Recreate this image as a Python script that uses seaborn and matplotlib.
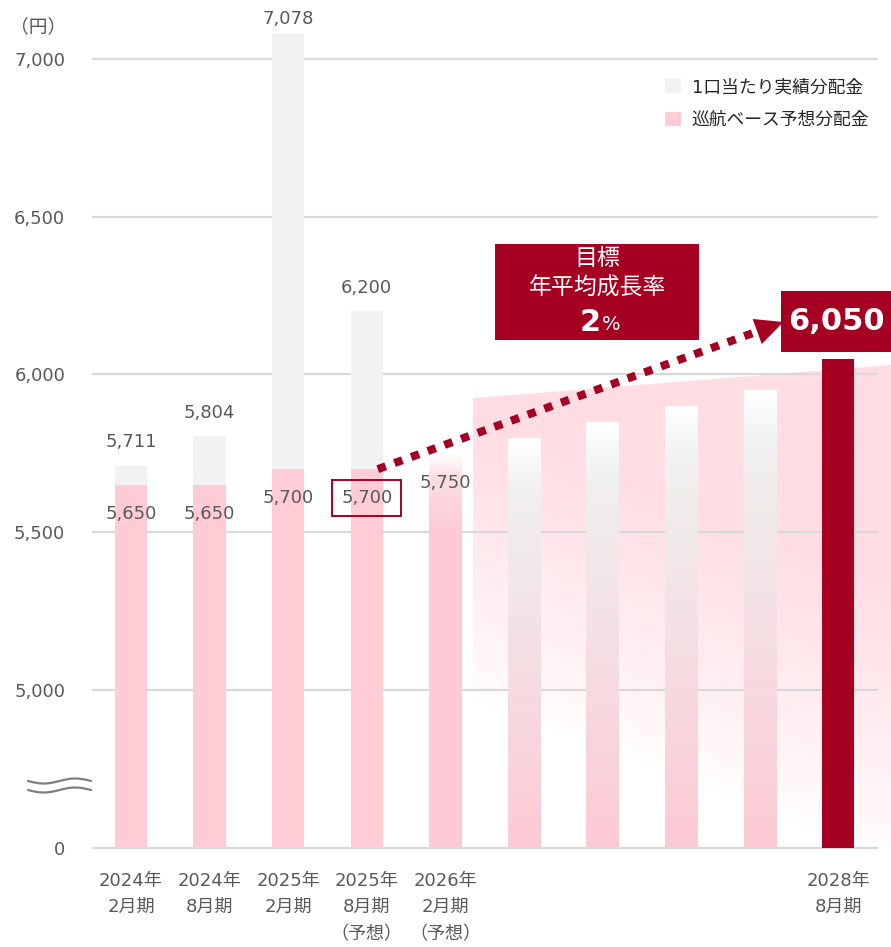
import numpy as np
import pandas as pd
import matplotlib
matplotlib.use("Agg")
import matplotlib.pyplot as plt
import seaborn as sns
from matplotlib.patches import Patch, Polygon, Rectangle
from matplotlib.lines import Line2D
from matplotlib.colors import LinearSegmentedColormap, to_rgb

# ---------------- data ----------------
periods = ["2024年2月期", "2024年8月期", "2025年2月期", "2025年8月期", "2026年2月期",
           "2026年8月期", "2027年2月期", "2027年8月期", "2028年2月期", "2028年8月期"]
tick_labels = ["2024年\n2月期", "2024年\n8月期", "2025年\n2月期", "2025年\n8月期\n（予想）",
               "2026年\n2月期\n（予想）", "", "", "", "", "2028年\n8月期"]
actual_periods = periods[:4]
actual_values = [5711, 5804, 7078, 6200]
base_periods = periods[:4]
base_values = [5650, 5650, 5700, 5700]
path_periods = periods[4:9]
path_values = [5750, 5800, 5850, 5900, 5950]
target_periods = periods[9:]
target_values = [6050]
ytick_values = [4500, 5000, 5500, 6000, 6500, 7000]
ytick_labels = ["0", "5,000", "5,500", "6,000", "6,500", "7,000"]
legend_labels = ["1口当たり実績分配金", "巡航ベース予想分配金"]
unit_label = "（円）"
goal_lines = ["目標", "年平均成長率"]
goal_rate = "2"
goal_unit = "%"

# ---------------- style ----------------
GRAY = "#F2F2F2"
PINK = "#FFCCD6"
RED = "#A50021"
TXT = "#595959"
GRID = "#D9D9D9"
W = 0.41
YMIN, YMAX = 4500, 7186
XMIN, XMAX = -0.5, 9.67
FS = 13

sns.set_theme(style="white")
plt.rcParams['font.family'] = ['DejaVu Sans', 'Noto Sans CJK JP']

fig = plt.figure(figsize=(8.91, 9.47), dpi=100)
ax = fig.add_axes([91.7 / 891, 99 / 947, (891 - 91.7) / 891, 848 / 947])

# gridlines
ax.hlines(ytick_values, -0.5, 9.5, color=GRID, lw=1.6, zorder=1, clip_on=False)

# background trend band (gradient)
bx0, bx1 = 4.35, 9.67
btop0, btop1 = 5925, 6030
band = Polygon([(bx0, YMIN), (bx0, btop0), (bx1, btop1), (bx1, YMIN)],
               closed=True, fc="none", ec="none")
ax.add_patch(band)
xs = np.linspace(bx0, bx1, 300)
ys = np.linspace(btop1, YMIN, 400)
XX, YY = np.meshgrid(xs, ys)
px = 131 + 78.6 * XX
py = 848 - (YY - 4500) * 0.3157
y0 = 700 + (px - 473) / 418 * 160
inten = np.clip((y0 - py) / 280, 0, 1) ** 0.8
band_rgb = np.array(to_rgb("#FFDDE3"))
img = np.zeros(XX.shape + (4,))
img[..., :3] = band_rgb
img[..., 3] = inten
im = ax.imshow(img, extent=(bx0, bx1, YMIN, btop1), aspect="auto", zorder=0.5,
               interpolation="bilinear")
im.set_clip_path(band)

# bars
df_act = pd.DataFrame({"period": actual_periods, "value": actual_values})
sns.barplot(data=df_act, x="period", y="value", order=periods, color=GRAY,
            saturation=1, width=W, linewidth=0, ax=ax, zorder=2)
df_base = pd.DataFrame({"period": base_periods, "value": base_values})
sns.barplot(data=df_base, x="period", y="value", order=periods, color=PINK,
            saturation=1, width=W, linewidth=0, ax=ax, zorder=2.2)
n0 = len(ax.patches)
df_path = pd.DataFrame({"period": path_periods, "value": path_values})
sns.barplot(data=df_path, x="period", y="value", order=periods, color=PINK,
            saturation=1, width=W, linewidth=0, ax=ax, zorder=2.2)
path_patches = [p for p in ax.patches[n0:] if np.isfinite(p.get_height()) and p.get_height() > 0]
df_tgt = pd.DataFrame({"period": target_periods, "value": target_values})
sns.barplot(data=df_tgt, x="period", y="value", order=periods, color=RED,
            saturation=1, width=W, linewidth=0, ax=ax, zorder=2.2)

cmap_main = LinearSegmentedColormap.from_list(
    "g", [(0, "#FFFFFF"), (0.13, "#F0F0F0"), (0.3, "#F1E9EA"), (1.0, "#FDCAD5")])
cmap_first = LinearSegmentedColormap.from_list(
    "g2", [(0, "#FFFFFF"), (0.06, "#FDDDE3"), (0.2, "#FDCCD6"), (1.0, "#FECBD6")])
for i, p in enumerate(path_patches):
    x0, w, top = p.get_x(), p.get_width(), p.get_y() + p.get_height()
    cm = cmap_first if i == 0 else cmap_main
    g = cm(np.linspace(0, 1, 256))[:, None, :]
    gi = ax.imshow(g, extent=(x0, x0 + w, YMIN, top), aspect="auto", zorder=2.5,
                   interpolation="bilinear")
    gi.set_clip_path(p)

# value labels
pos = {p: i for i, p in enumerate(periods)}
for per, v in zip(actual_periods, actual_values):
    off = 11 if v > 7000 else 17
    ax.annotate(f"{v:,}", (pos[per], v), xytext=(0, off), textcoords="offset points",
                ha="center", va="center", fontsize=FS, color=TXT, zorder=5)
for k, (per, v) in enumerate(zip(base_periods, base_values)):
    kw = {}
    if k == 3:
        kw["bbox"] = dict(boxstyle="square,pad=0.5", fc="none", ec=RED, lw=1.4)
    ax.annotate(f"{v:,}", (pos[per], v), xytext=(0, -21), textcoords="offset points",
                ha="center", va="center", fontsize=FS, color=TXT, zorder=5, **kw)
ax.annotate(f"{path_values[0]:,}", (pos[path_periods[0]], path_values[0]), xytext=(0, -21),
            textcoords="offset points", ha="center", va="center", fontsize=FS,
            color=TXT, zorder=5)

# dotted growth arrow
sx, sy = pos[base_periods[3]] + 0.14, base_values[3]
tx, ty = 8.30, 6166
fx, fy = sx + (tx - sx) * 0.925, sy + (ty - sy) * 0.925
ax.plot([sx, fx], [sy, fy], color=RED, lw=5.8, dashes=(1.05, 1.15),
        dash_capstyle="butt", solid_capstyle="butt", zorder=6)
ax.annotate("", xy=(tx, ty), xytext=(sx + (tx - sx) * 0.9, sy + (ty - sy) * 0.9),
            arrowprops=dict(arrowstyle="-|>,head_length=1.0,head_width=0.48",
                            color=RED, lw=0, mutation_scale=20, shrinkA=0, shrinkB=0),
            zorder=6)

# goal box
ax.add_patch(Rectangle((4.63, 6109), 2.6, 304, fc=RED, ec="none", zorder=6, clip_on=False))
ax.text(5.93, 6366, goal_lines[0], ha="center", va="center", color="white", fontsize=16.5,
        zorder=7)
ax.text(5.93, 6274, goal_lines[1], ha="center", va="center", color="white", fontsize=16.5,
        zorder=7)
ax.text(5.975, 6163, goal_rate, ha="right", va="center", color="white", fontsize=22,
        fontweight="bold", zorder=7)
ax.text(5.99, 6157, goal_unit, ha="left", va="center", color="white", fontsize=14,
        zorder=7)

# target value box
ax.add_patch(Rectangle((8.27, 6071), 1.40, 193, fc=RED, ec="none", zorder=6, clip_on=False))
ax.text(8.97, 6168, f"{target_values[0]:,}", ha="center", va="center", color="white",
        fontsize=22, fontweight="bold", zorder=7)

# axes styling
ax.set_xlim(XMIN, XMAX)
ax.set_ylim(YMIN, YMAX)
ax.set_xticks(range(len(periods)))
ax.set_xticklabels(tick_labels, linespacing=1.62, fontsize=FS, color=TXT)
ax.set_yticks(ytick_values)
ax.set_yticklabels(ytick_labels, fontsize=FS, color=TXT)
ax.tick_params(axis="x", length=0, pad=17)
ax.tick_params(axis="y", length=0, pad=19)
ax.set_xlabel("")
ax.set_ylabel("")
for s in ax.spines.values():
    s.set_visible(False)
ax.grid(False)
ax.patch.set_alpha(0)

# legend
handles = [Patch(facecolor=GRAY, edgecolor="none"), Patch(facecolor=PINK, edgecolor="none")]
leg = fig.legend(handles, legend_labels, loc="upper left",
                 bbox_to_anchor=(665 / 891, 1 - 78 / 947), frameon=False,
                 fontsize=12.8, handlelength=0.9, handleheight=0.9, handletextpad=0.6,
                 labelspacing=0.85, borderpad=0, borderaxespad=0)
for t in leg.get_texts():
    t.set_color("#262626")

# unit label
fig.text(38 / 891, 1 - 27 / 947, unit_label, ha="center", va="center", fontsize=13.5,
         color=TXT)

# axis break mark
bx = np.linspace(28, 91, 60)
for off in (0, 9):
    by = 781 + off + 2.5 * np.sin(2 * np.pi * (bx - 28) / 63)
    fig.add_artist(Line2D(bx / 891, 1 - by / 947, transform=fig.transFigure,
                          color="#7F7F7F", lw=1.6))

fig.savefig("out.png", dpi=100)
